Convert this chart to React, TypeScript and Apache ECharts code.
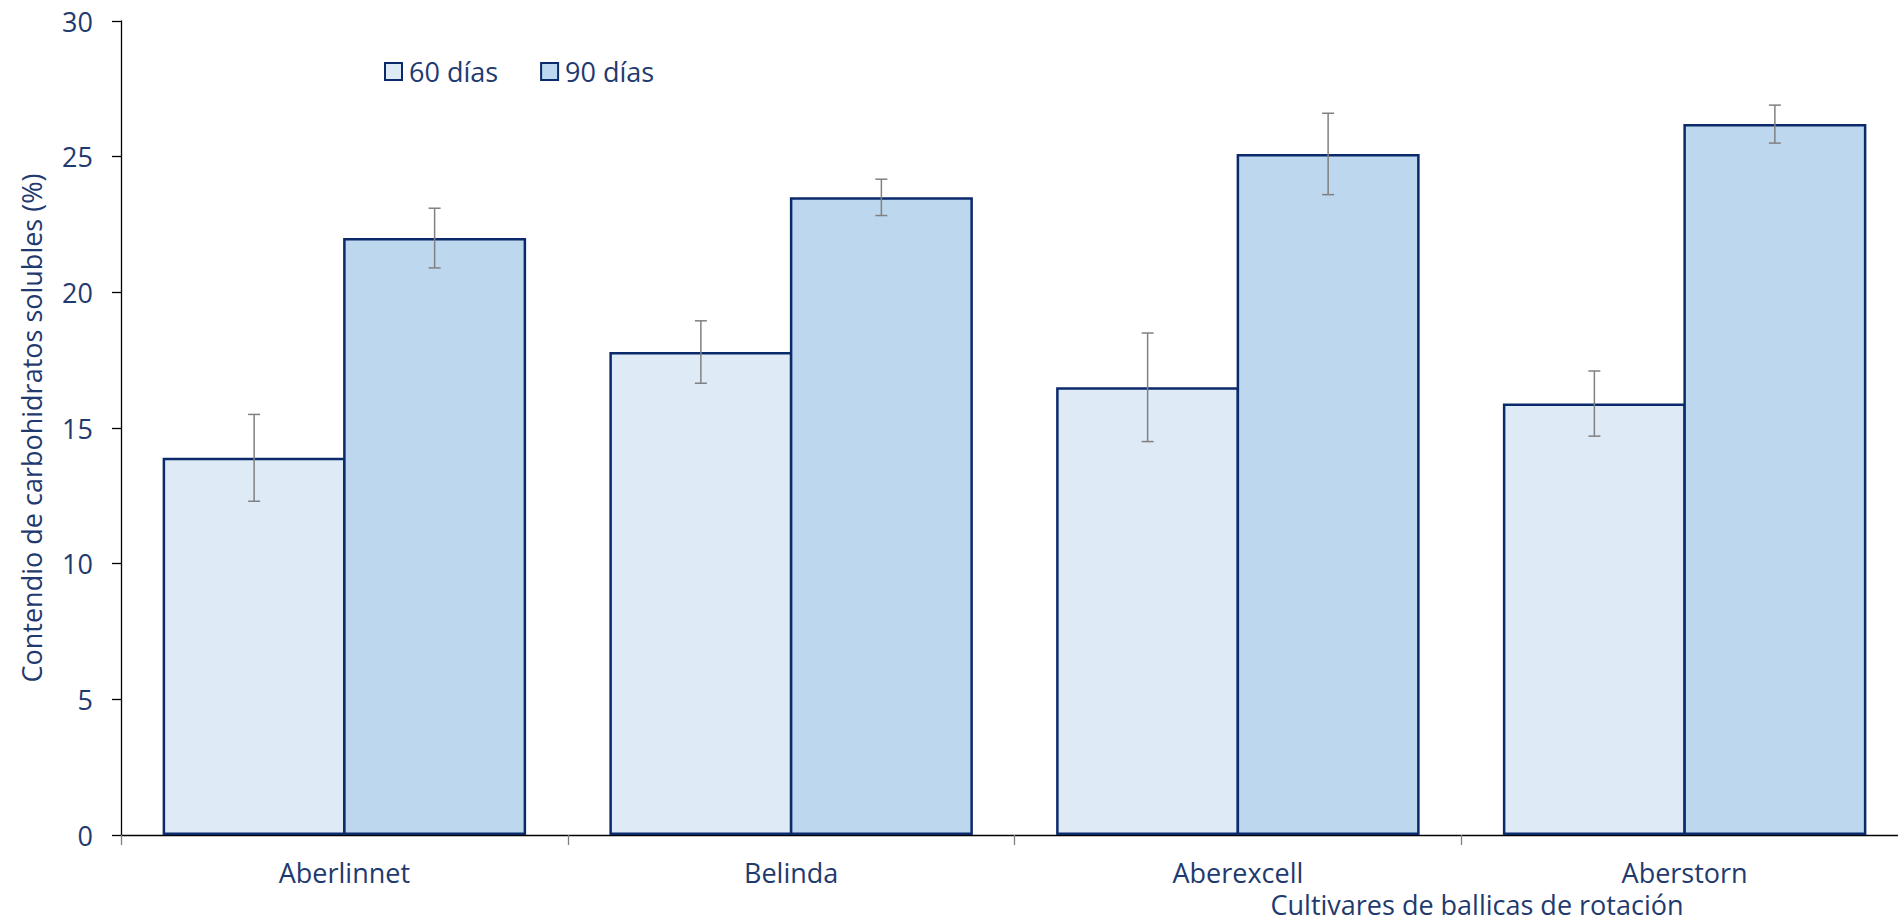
import React, { useEffect, useRef } from "react";
import * as echarts from "echarts";

const categories = ["Aberlinnet", "Belinda", "Aberexcell", "Aberstorn"];
const seriesNames = ["60 días", "90 días"];
const values60 = [13.9, 17.8, 16.5, 15.9];
const values90 = [22.0, 23.5, 25.1, 26.2];
const err60 = [1.6, 1.15, 2.0, 1.2];
const err90 = [1.1, 0.67, 1.5, 0.7];
const yTitle = "Contendio de carbohidratos solubles (%)";
const xTitle = "Cultivares de ballicas de rotación";

const TEXT = "#1f3a6e";
const FONT = "'Open Sans', 'Noto Sans', sans-serif";
const FS = 27;
const BAR_W = 183;
const BORDER = 2.5;

export default function App() {
  const ref = useRef<HTMLDivElement>(null);
  useEffect(() => {
    if (!ref.current) return;
    const chart = echarts.init(ref.current, undefined, { renderer: "svg" });
    const errData: any[] = [];
    values60.forEach((v, i) => errData.push([i, v, err60[i], -1]));
    values90.forEach((v, i) => errData.push([i, v, err90[i], 1]));
    const gapPct = (-BORDER / BAR_W) * 100 + "%";
    chart.setOption({
      animation: false,
      textStyle: { fontFamily: FONT, color: TEXT },
      grid: { left: 121, right: 0, top: 21, bottom: 87, containLabel: false },
      legend: {
        data: seriesNames,
        left: 379,
        top: 53,
        icon: "rect",
        itemWidth: 17,
        itemHeight: 17,
        itemGap: 42,
        textStyle: { fontFamily: FONT, fontSize: FS, color: TEXT, padding: [0, 0, 0, 2] },
      },
      xAxis: {
        type: "category",
        data: categories,
        axisLine: { lineStyle: { color: "#000", width: 1.3 } },
        axisTick: { show: true, length: 10, lineStyle: { color: "#7f7f7f", width: 1.3 } },
        axisLabel: { margin: 24, fontSize: FS, color: TEXT, fontFamily: FONT },
      },
      yAxis: {
        type: "value",
        min: 0,
        max: 30,
        interval: 5,
        splitLine: { show: false },
        axisLine: { show: true, lineStyle: { color: "#000", width: 1.3 } },
        axisTick: { show: true, length: 9, lineStyle: { color: "#000", width: 1.3 } },
        axisLabel: { margin: 28, fontSize: FS, color: TEXT, fontFamily: FONT },
        name: yTitle,
        nameLocation: "middle",
        nameRotate: 90,
        nameGap: 76,
        nameTextStyle: { fontSize: FS, color: TEXT, fontFamily: FONT },
      },
      graphic: [
        {
          type: "text",
          x: 1477,
          y: 904,
          style: {
            text: xTitle,
            fontSize: FS,
            fontFamily: FONT,
            fill: TEXT,
            textAlign: "center",
            textVerticalAlign: "middle",
          },
        },
      ],
      series: [
        {
          name: seriesNames[0],
          type: "bar",
          data: values60,
          barGap: gapPct,
          barWidth: BAR_W,
          itemStyle: { color: "#deeaf6", borderColor: "#0b2a6b", borderWidth: BORDER },
        },
        {
          name: seriesNames[1],
          type: "bar",
          data: values90,
          barGap: gapPct,
          barWidth: BAR_W,
          itemStyle: { color: "#bdd7ee", borderColor: "#0b2a6b", borderWidth: BORDER },
        },
        {
          type: "custom",
          z: 5,
          encode: { x: 0, y: 1 },
          data: errData,
          renderItem: (params: any, api: any) => {
            const idx = api.value(0);
            const val = api.value(1);
            const err = api.value(2);
            const s = api.value(3);
            const cx = api.coord([idx, val])[0] + (s * (BAR_W - BORDER)) / 2;
            const top = api.coord([idx, val + err])[1];
            const bot = api.coord([idx, val - err])[1];
            const cap = 6;
            const st = { stroke: "#808080", lineWidth: 1.5 };
            return {
              type: "group",
              children: [
                { type: "line", shape: { x1: cx, y1: top, x2: cx, y2: bot }, style: st },
                { type: "line", shape: { x1: cx - cap, y1: top, x2: cx + cap, y2: top }, style: st },
                { type: "line", shape: { x1: cx - cap, y1: bot, x2: cx + cap, y2: bot }, style: st },
              ],
            };
          },
        },
      ],
    });
    return () => chart.dispose();
  }, []);
  return (
    <div
      style={{
        position: "fixed",
        left: 0,
        top: 0,
        width: 1898,
        height: 922,
        overflow: "hidden",
        background: "#fff",
      }}
    >
      <div ref={ref} style={{ width: 1908, height: 922 }} />
    </div>
  );
}
